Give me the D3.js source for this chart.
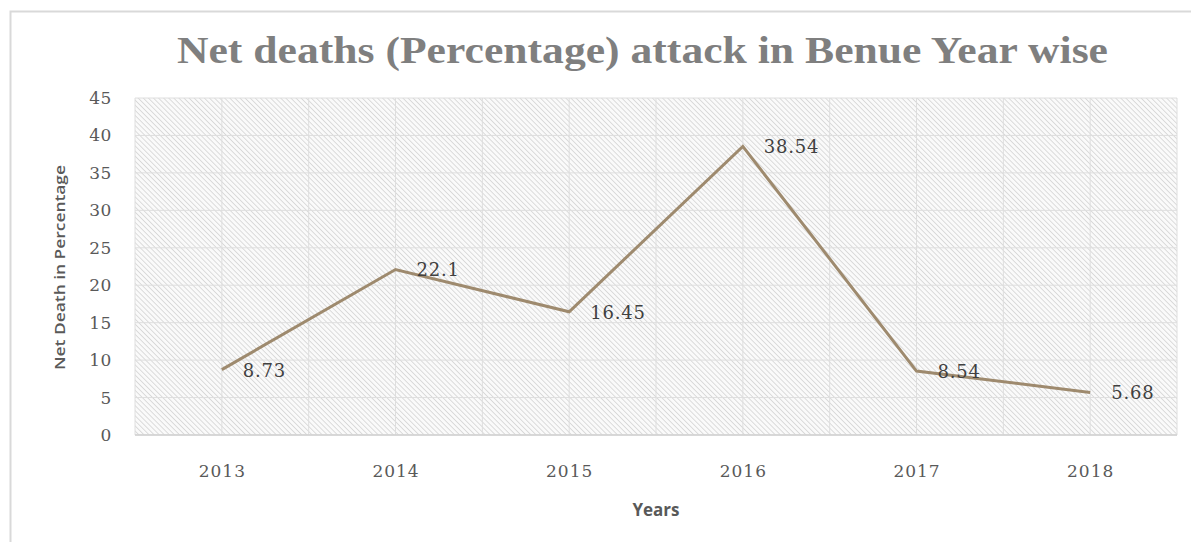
<!DOCTYPE html>
<html><head><meta charset="utf-8">
<script src="https://cdn.jsdelivr.net/npm/d3@7"></script>
<style>body{margin:0;background:#fff}svg{display:block}</style>
</head><body>
<svg id="c" width="1191" height="542"></svg>
<script>
const years = ["2013","2014","2015","2016","2017","2018"];
const values = [8.73, 22.1, 16.45, 38.54, 8.54, 5.68];
const valueLabels = ["8.73","22.1","16.45","38.54","8.54","5.68"];
const yTicks = [0,5,10,15,20,25,30,35,40,45];
const titleText = "Net deaths (Percentage) attack in Benue Year wise";
const xTitle = "Years";
const yTitle = "Net Death in Percentage";

const svg = d3.select("#c");
const L = 135, R = 1177, T = 98, B = 435;

// outer chart border
svg.append("rect").attr("x",10.5).attr("y",11.5).attr("width",1200).attr("height",600)
  .attr("fill","#fff").attr("stroke","#d9d9d9").attr("stroke-width",2);

const defs = svg.append("defs");
const pat = defs.append("pattern").attr("id","hatch").attr("patternUnits","userSpaceOnUse")
  .attr("width",3.6).attr("height",3.6).attr("patternTransform","rotate(45)");
pat.append("rect").attr("width",3.6).attr("height",3.6).attr("fill","#fafafa");
pat.append("line").attr("x1",0).attr("y1",0).attr("x2",3.6).attr("y2",0)
  .attr("stroke","#d4d4d4").attr("stroke-width",1.6);

const x = d3.scalePoint().domain(years).range([L,R]).padding(0.5);
const y = d3.scaleLinear().domain([0,45]).range([B,T]);

svg.append("rect").attr("x",L).attr("y",T).attr("width",R-L).attr("height",B-T).attr("fill","url(#hatch)");

// gridlines
const step = x.step();
const vgrid = d3.range(0, years.length*2+1).map(i => L + i*step/2);
svg.append("g").selectAll("line").data(vgrid).join("line")
  .attr("x1",d=>d).attr("x2",d=>d).attr("y1",T).attr("y2",B)
  .attr("stroke","#dedede").attr("stroke-width",1);
svg.append("g").selectAll("line").data(yTicks).join("line")
  .attr("x1",L).attr("x2",R).attr("y1",d=>y(d)).attr("y2",d=>y(d))
  .attr("stroke","#dedede").attr("stroke-width",1);
svg.append("line").attr("x1",L).attr("x2",R).attr("y1",B).attr("y2",B).attr("stroke","#d0d0d0").attr("stroke-width",1.5);

// y axis
const yAxis = svg.append("g").attr("transform",`translate(${L-23},0)`)
  .call(d3.axisLeft(y).tickValues(yTicks).tickSize(0).tickPadding(0));
yAxis.select(".domain").remove();
yAxis.selectAll("text").attr("font-family","'DejaVu Serif'").attr("font-size",17)
  .attr("letter-spacing",0.6).attr("fill","#595959");

// x axis
const xAxis = svg.append("g").attr("transform",`translate(0,${B})`)
  .call(d3.axisBottom(x).tickSize(0).tickPadding(0));
xAxis.select(".domain").remove();
xAxis.selectAll("text").attr("font-family","'DejaVu Serif'").attr("font-size",17)
  .attr("letter-spacing",1).attr("fill","#595959").attr("dy",null).attr("y",42);

// line
const line = d3.line().x((d,i)=>x(years[i])).y(d=>y(d));
svg.append("path").datum(values).attr("d",line).attr("fill","none")
  .attr("stroke","#9e8a6e").attr("stroke-width",3).attr("stroke-linejoin","miter");

// data labels
svg.append("g").selectAll("text").data(values).join("text")
  .attr("x",(d,i)=>x(years[i])+21).attr("y",d=>y(d)+7)
  .attr("font-family","'DejaVu Serif'").attr("font-size",18).attr("letter-spacing",0.8)
  .attr("fill","#404040").text((d,i)=>valueLabels[i]);

// title
svg.append("text").attr("x",(177+1108)/2).attr("y",63).attr("text-anchor","middle")
  .attr("font-family","'Liberation Serif'").attr("font-weight","bold").attr("font-size",37)
  .attr("fill","#7f7f7f").attr("textLength",931).attr("lengthAdjust","spacingAndGlyphs").text(titleText);

// axis titles
svg.append("text").attr("x",(L+R)/2).attr("y",516).attr("text-anchor","middle")
  .attr("font-family","'Open Sans'").attr("font-weight","bold").attr("font-size",17)
  .attr("fill","#595959").text(xTitle);
svg.append("text").attr("transform","translate(65,267.5) rotate(-90)").attr("text-anchor","middle")
  .attr("font-family","'Open Sans'").attr("font-weight","600").attr("font-size",14.5)
  .attr("fill","#595959").attr("textLength",205).attr("lengthAdjust","spacingAndGlyphs").text(yTitle);
</script>
</body></html>
